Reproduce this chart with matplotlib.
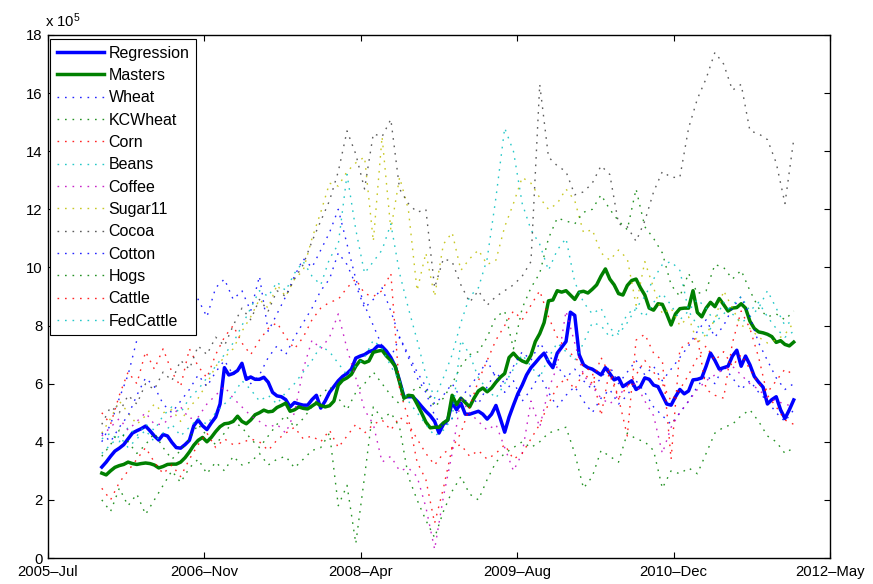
import numpy as np
import matplotlib
matplotlib.use('Agg')
import matplotlib.pyplot as plt
import matplotlib.dates as mdates

plt.rcParams['font.family'] = ['Liberation Sans', 'DejaVu Sans']
plt.rcParams['mathtext.default'] = 'regular'

# Position series, units of 1e5, sampled every two weeks
regression = [3.13, 3.3, 3.5, 3.68, 3.78, 3.9, 4.1, 4.3, 4.38, 4.45,
              4.54, 4.38, 4.2, 4.06, 4.25, 4.2, 3.98, 3.8, 3.78, 3.9,
              4.05, 4.55, 4.75, 4.55, 4.42, 4.65, 4.85, 5.3, 6.55, 6.3,
              6.35, 6.45, 6.7, 6.15, 6.23, 6.15, 6.15, 6.22, 6.05, 5.7,
              5.58, 5.55, 5.45, 5.2, 5.35, 5.3, 5.26, 5.26, 5.45, 5.6,
              5.16, 5.4, 5.7, 5.9, 6.1, 6.25, 6.35, 6.5, 6.88, 6.95,
              7.0, 7.1, 7.15, 7.3, 7.28, 7.12, 6.9, 6.6, 6.1, 5.54,
              5.55, 5.55, 5.4, 5.22, 5.05, 4.9, 4.7, 4.3, 4.6, 4.75,
              5.35, 5.1, 5.33, 4.95, 4.95, 5.0, 5.05, 4.95, 4.78, 4.95,
              5.25, 4.8, 4.33, 4.85, 5.26, 5.65, 5.95, 6.3, 6.55, 6.72,
              6.9, 7.05, 6.75, 6.55, 7.05, 7.25, 7.45, 8.46, 8.35, 7.0,
              6.65, 6.55, 6.5, 6.4, 6.3, 6.55, 6.35, 6.13, 6.2, 5.9,
              6.0, 6.1, 5.8, 5.9, 6.2, 6.15, 5.95, 5.9, 5.6, 5.3,
              5.26, 5.55, 5.8, 5.65, 5.75, 6.13, 6.15, 6.2, 6.6, 7.05,
              6.8, 6.5, 6.55, 6.6, 6.95, 7.15, 6.6, 6.95, 6.65, 6.25,
              6.05, 5.88, 5.3, 5.45, 5.55, 5.1, 4.8, 5.1, 5.44]

masters = [2.92, 2.86, 3.0, 3.12, 3.18, 3.22, 3.3, 3.25, 3.22, 3.25,
           3.27, 3.25, 3.2, 3.1, 3.15, 3.22, 3.23, 3.23, 3.3, 3.45,
           3.65, 3.88, 4.05, 4.15, 4.0, 4.15, 4.35, 4.52, 4.62, 4.64,
           4.7, 4.88, 4.7, 4.62, 4.75, 4.93, 5.0, 5.09, 5.03, 5.05,
           5.18, 5.25, 5.33, 5.05, 5.1, 5.2, 5.15, 5.13, 5.23, 5.33,
           5.25, 5.2, 5.24, 5.4, 5.95, 6.12, 6.2, 6.32, 6.6, 6.8,
           6.72, 6.78, 7.08, 7.12, 7.15, 6.95, 6.8, 6.6, 6.05, 5.5,
           5.6, 5.58, 5.3, 5.0, 4.68, 4.48, 4.5, 4.5, 4.65, 4.75,
           5.6, 5.28, 5.5, 5.35, 5.2, 5.5, 5.75, 5.85, 5.72, 5.85,
           6.05, 6.22, 6.35, 6.9, 7.05, 6.88, 6.78, 6.72, 6.98, 7.45,
           7.72, 8.1, 8.85, 8.88, 9.2, 9.15, 9.2, 9.05, 8.9, 9.15,
           9.18, 9.12, 9.25, 9.4, 9.7, 9.95, 9.6, 9.4, 9.1, 9.05,
           9.38, 9.55, 9.6, 9.3, 9.05, 8.6, 8.53, 8.75, 8.73, 8.4,
           8.02, 8.4, 8.58, 8.6, 8.6, 9.2, 8.45, 8.3, 8.6, 8.8,
           8.65, 8.93, 8.72, 8.5, 8.6, 8.62, 8.75, 8.6, 8.15, 7.9,
           7.78, 7.75, 7.7, 7.62, 7.42, 7.48, 7.35, 7.3, 7.43]

# Single commodities, sampled every four weeks
wheat = [4.0, 4.6, 5.5, 6.3, 7.5, 8.5, 9.2, 8.7, 8.0, 8.8,
         9.3, 8.9, 8.3, 9.3, 9.6, 8.9, 9.2, 8.5, 9.7, 7.8,
         8.4, 9.0, 9.7, 10.3, 10.0, 10.6, 11.2, 12.0, 10.8, 9.6,
         8.7, 8.0, 7.3, 6.9, 7.6, 7.0, 6.4, 5.9, 5.3, 5.6,
         6.0, 5.5, 5.9, 6.3, 6.8, 6.2, 5.7, 6.1, 5.4, 5.8,
         6.3, 5.7, 5.2, 5.6, 5.9, 5.4, 5.0, 5.5, 5.8, 5.3,
         5.6, 6.1, 5.7, 5.2, 4.9, 4.6, 5.0, 5.4, 5.9, 6.3,
         6.0, 6.6, 6.2, 5.8, 6.1, 5.7, 5.4, 5.0, 4.7, 5.1]
kcwheat = [2.0, 1.6, 2.4, 1.8, 2.2, 1.5, 2.0, 2.5, 3.0, 2.6,
           3.1, 3.4, 2.9, 3.3, 3.0, 3.5, 3.2, 3.3, 3.6, 3.2,
           3.4, 3.5, 3.1, 3.4, 3.7, 3.8, 4.3, 1.8, 2.5, 0.5,
           2.8, 5.2, 4.8, 5.0, 4.5, 2.8, 2.0, 1.3, 0.7, 1.6,
           2.3, 2.8, 2.2, 2.0, 2.7, 3.3, 3.6, 3.8, 4.0, 3.8,
           4.0, 4.3, 4.4, 4.5, 3.6, 2.4, 2.8, 3.7, 3.5, 3.3,
           4.3, 4.1, 4.0, 3.7, 2.4, 3.0, 2.9, 3.1, 2.9, 3.6,
           4.3, 4.5, 4.6, 4.9, 5.1, 4.7, 4.2, 4.0, 3.6, 3.8]
corn = [5.0, 4.6, 5.6, 6.4, 6.0, 7.1, 6.5, 7.2, 6.4, 5.9,
        7.2, 6.6, 6.2, 7.0, 7.6, 8.0, 7.4, 7.0, 7.5, 7.9,
        8.1, 7.6, 7.2, 7.6, 8.2, 8.6, 8.8, 8.9, 9.3, 9.6,
        9.1, 9.0, 9.2, 9.8, 5.8, 4.8, 3.3, 2.7, 1.2, 2.4,
        3.8, 4.3, 5.2, 6.1, 6.8, 7.5, 8.0, 8.5, 8.2, 8.7,
        9.2, 8.3, 7.6, 7.2, 6.9, 6.6, 6.4, 4.9, 6.5, 5.5,
        4.2, 7.5, 7.7, 7.05, 6.8, 3.4, 7.2, 7.4, 7.6, 5.8,
        5.6, 5.5, 7.4, 8.5, 7.9, 6.9, 5.6, 5.2, 4.75, 4.6]
beans = [4.1, 4.3, 4.0, 4.5, 4.2, 4.6, 4.4, 4.9, 5.2, 5.0,
         5.5, 5.8, 6.2, 6.6, 7.0, 7.4, 8.0, 8.6, 9.2, 9.0,
         9.5, 9.2, 9.8, 10.2, 9.7, 9.4, 10.3, 10.8, 13.2, 11.3,
         9.8, 10.2, 10.6, 11.5, 9.8, 8.6, 7.5, 6.3, 5.5, 6.2,
         7.0, 8.1, 9.0, 9.3, 10.3, 12.4, 14.8, 14.0, 12.2, 11.3,
         10.8, 9.9, 10.6, 11.0, 9.5, 8.8, 8.4, 8.6, 7.9, 7.7,
         8.1, 8.6, 9.0, 9.6, 10.1, 10.2, 9.9, 8.5, 8.0, 7.6,
         8.2, 8.8, 8.4, 8.1, 8.3, 8.6, 9.2, 8.6, 8.0, 8.2]
coffee = [4.2, 4.5, 4.8, 4.4, 4.7, 5.0, 4.6, 4.6, 4.9, 5.2,
          4.8, 4.85, 5.3, 5.6, 5.9, 5.5, 5.2, 4.9, 4.7, 4.5,
          4.6, 4.3, 5.0, 6.5, 7.5, 7.2, 7.6, 8.4, 7.2, 6.2,
          5.1, 4.6, 3.3, 3.5, 3.0, 3.1, 2.8, 1.75, 0.3, 2.1,
          3.6, 5.5, 5.0, 4.7, 4.4, 4.6, 3.8, 3.0, 3.6, 5.4,
          4.5, 5.8, 6.6, 8.5, 7.4, 6.3, 5.9, 5.5, 5.3, 5.6,
          5.9, 6.0, 5.4, 4.9, 3.6, 4.5, 5.0, 5.4, 5.8, 6.1,
          6.3, 6.5, 6.6, 6.3, 6.0, 5.8, 5.5, 5.4, 5.3, 5.2]
sugar11 = [4.3, 4.8, 5.4, 5.0, 4.6, 4.9, 5.3, 5.0, 5.1, 4.7,
           5.2, 5.5, 6.0, 6.6, 6.9, 7.2, 7.8, 8.3, 8.9, 8.6,
           9.4, 9.0, 9.6, 9.9, 11.0, 11.9, 12.9, 12.8, 13.3, 13.6,
           13.8, 10.9, 14.5, 11.3, 13.1, 12.0, 9.2, 10.5, 9.0, 10.8,
           11.2, 9.9, 10.3, 10.6, 10.1, 10.25, 11.4, 12.2, 13.1, 12.9,
           12.4, 12.0, 12.2, 12.7, 12.3, 11.2, 11.3, 10.5, 10.25, 10.6,
           10.3, 8.7, 10.2, 9.3, 8.4, 8.6, 8.0, 8.3, 7.4, 7.7,
           8.2, 9.2, 8.6, 8.0, 7.9, 7.6, 7.4, 7.5, 7.7, 8.1]
cocoa = [4.6, 5.2, 5.0, 5.6, 5.3, 6.0, 5.8, 6.4, 6.1, 6.8,
         6.5, 7.3, 7.0, 7.6, 7.3, 8.0, 8.6, 8.2, 8.9, 8.5,
         9.2, 9.0, 9.6, 10.1, 10.9, 11.6, 12.3, 13.3, 14.7, 13.9,
         12.7, 14.6, 14.5, 15.1, 12.7, 12.2, 11.9, 12.0, 9.3, 10.3,
         10.2, 9.4, 8.8, 9.2, 8.7, 9.0, 9.2, 9.4, 9.7, 10.2,
         16.3, 13.8, 13.5, 13.3, 12.5, 12.6, 12.9, 13.5, 13.2, 11.5,
         11.4, 10.9, 11.6, 12.6, 13.3, 13.1, 13.1, 14.8, 15.8, 16.5,
         17.4, 17.0, 16.1, 16.3, 14.7, 14.6, 14.4, 13.6, 12.2, 14.4]
cotton = [4.3, 4.0, 4.5, 4.9, 5.6, 6.2, 5.9, 5.3, 5.0, 5.4,
          5.8, 6.3, 5.9, 6.4, 6.8, 6.3, 6.6, 6.0, 6.3, 6.9,
          7.3, 7.0, 7.6, 8.1, 8.6, 9.2, 9.6, 10.5, 10.1, 9.4,
          8.6, 8.9, 9.3, 8.5, 7.6, 6.9, 6.2, 5.7, 4.9, 4.5,
          4.8, 5.2, 5.6, 5.3, 5.9, 6.4, 6.0, 6.6, 7.1, 6.8,
          7.4, 7.0, 6.6, 6.2, 6.5, 6.1, 5.8, 6.2, 6.6, 6.0,
          6.4, 6.8, 6.3, 6.6, 6.1, 6.5, 6.9, 7.3, 7.8, 8.2,
          7.6, 8.0, 8.6, 9.0, 8.3, 7.4, 6.8, 6.2, 5.8, 6.0]
hogs = [3.5, 3.9, 4.4, 4.0, 3.6, 3.9, 4.3, 3.8, 3.4, 3.7,
        4.1, 4.6, 4.2, 3.9, 4.3, 4.7, 4.5, 4.1, 3.8, 4.2,
        4.6, 4.9, 4.5, 4.8, 5.2, 5.6, 5.9, 5.5, 5.1, 5.7,
        6.0, 6.4, 6.0, 5.6, 5.3, 5.6, 5.9, 5.8, 5.2, 5.5,
        6.0, 6.6, 7.0, 7.1, 7.6, 8.3, 8.5, 7.2, 8.6, 9.3,
        9.8, 11.0, 11.7, 11.6, 11.5, 11.9, 12.0, 12.5, 12.0, 11.6,
        11.3, 12.7, 11.4, 11.0, 10.5, 9.4, 9.0, 9.8, 9.1, 9.2,
        10.1, 10.0, 9.6, 9.9, 9.2, 8.6, 8.3, 8.4, 8.2, 8.5]
cattle = [2.4, 2.0, 2.6, 3.0, 3.4, 3.8, 3.3, 2.9, 3.2, 2.8,
          3.4, 3.9, 4.3, 3.8, 4.1, 3.9, 3.96, 4.1, 4.0, 3.7,
          4.06, 4.3, 4.5, 4.1, 4.2, 4.0, 4.4, 3.8, 4.2, 4.6,
          4.3, 4.6, 4.75, 4.4, 4.85, 4.6, 4.1, 3.6, 3.2, 3.6,
          3.8, 3.9, 3.5, 3.7, 3.4, 3.6, 3.9, 3.4, 3.6, 4.1,
          4.6, 5.3, 5.9, 6.2, 5.8, 6.4, 6.0, 6.9, 6.3, 5.5,
          5.9, 6.3, 6.8, 6.4, 6.0, 5.4, 5.8, 6.3, 6.9, 7.3,
          6.8, 7.1, 6.6, 7.0, 6.5, 6.0, 5.7, 6.1, 6.5, 6.3]
fedcattle = [3.6, 3.9, 4.2, 3.8, 4.1, 4.4, 4.0, 4.3, 4.6, 4.2,
             4.5, 4.8, 4.6, 5.0, 5.3, 5.6, 6.1, 5.8, 5.4, 5.6,
             5.3, 5.7, 6.0, 6.4, 6.8, 7.3, 7.1, 6.7, 6.3, 6.6,
             6.9, 7.5, 7.2, 6.6, 6.1, 5.4, 5.0, 4.6, 4.2, 4.4,
             4.8, 7.5, 7.0, 6.2, 5.8, 5.5, 6.0, 6.5, 7.0, 6.6,
             6.2, 6.9, 7.4, 7.1, 6.8, 7.4, 8.1, 8.0, 7.6, 7.8,
             8.4, 8.6, 8.3, 8.8, 9.1, 8.7, 8.2, 8.5, 8.9, 8.6,
             8.1, 8.4, 8.7, 9.0, 8.5, 8.8, 8.3, 7.9, 7.6, 7.8]

tick_labels = ['2005\u2013Jul', '2006\u2013Nov', '2008\u2013Apr',
               '2009\u2013Aug', '2010\u2013Dec', '2012\u2013May']
y_ticks = [0, 2, 4, 6, 8, 10, 12, 14, 16, 18]

# dates of the samples
first = np.datetime64('2005-12-27')
d2w = first + np.arange(len(regression)) * np.timedelta64(14, 'D')
d4w = first + np.arange(len(wheat)) * np.timedelta64(28, 'D')
x2w = mdates.date2num(d2w)
x4w = mdates.date2num(d4w)

blue = (0, 0, 1)
green = (0, 0.5, 0)
red = (1, 0, 0)
cyan = (0, 0.75, 0.75)
magenta = (0.75, 0, 0.75)
yellow = (0.75, 0.75, 0)
gray = (0.25, 0.25, 0.25)

fig = plt.figure(figsize=(8.73, 5.84), dpi=100)
ax = fig.add_axes([48 / 873, 26 / 584, 782 / 873, 523 / 584])

ax.plot(x2w, regression, color=blue, lw=2.5, label='Regression')
ax.plot(x2w, masters, color=green, lw=2.5, label='Masters')

dotted = [(wheat, blue, 'Wheat'), (kcwheat, green, 'KCWheat'),
          (corn, red, 'Corn'), (beans, cyan, 'Beans'),
          (coffee, magenta, 'Coffee'), (sugar11, yellow, 'Sugar11'),
          (cocoa, gray, 'Cocoa'), (cotton, blue, 'Cotton'),
          (hogs, green, 'Hogs'), (cattle, red, 'Cattle'),
          (fedcattle, cyan, 'FedCattle')]
for vals, col, name in dotted:
    ax.plot(x4w, vals, color=col, lw=1.0, alpha=0.85,
            linestyle=(0, (1.2, 4.2)), label=name)

# axis limits and ticks (matlab datetick style)
x0 = mdates.date2num(np.datetime64('2005-07-08'))
ax.set_xlim(x0, x0 + 2500)
ax.set_xticks([x0 + 500 * i for i in range(6)])
ax.set_xticklabels(tick_labels)
ax.set_ylim(0, 18)
ax.set_yticks(y_ticks)
ax.set_yticklabels([str(v) for v in y_ticks])
ax.tick_params(direction='in', top=True, right=True, length=4.5,
               width=0.8, labelsize=10.7, pad=4)
ax.tick_params(axis='x', pad=5)
for sp in ax.spines.values():
    sp.set_linewidth(1.0)

ax.text(-0.004, 1.015, 'x 10$^5$', transform=ax.transAxes,
        ha='left', va='baseline', fontsize=10.7)

leg = ax.legend(loc='upper left', bbox_to_anchor=(0.003, 0.992),
                borderaxespad=0, fontsize=11.5, handlelength=2.95,
                handletextpad=0.3, labelspacing=0.46, fancybox=False,
                framealpha=1, edgecolor='black', borderpad=0.4)
leg.get_frame().set_linewidth(0.8)

fig.savefig('out.png', dpi=100)
